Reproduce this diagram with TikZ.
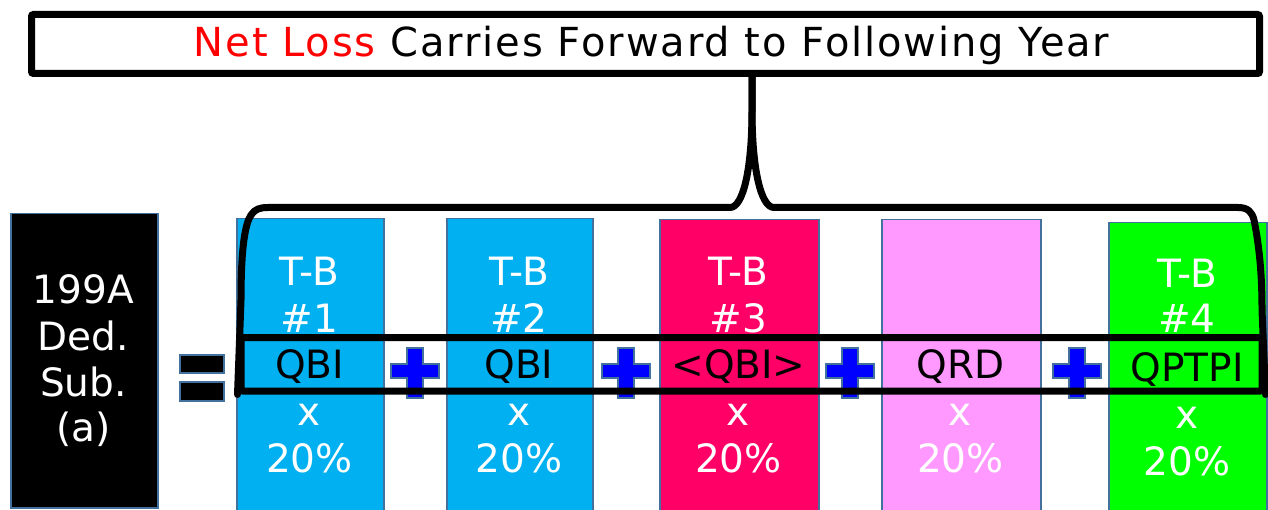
\documentclass[tikz,border=0pt]{standalone}
\usepackage{fontspec}
\setmainfont{DejaVu Sans}
\definecolor{edge}{HTML}{41719C}
\definecolor{cblue}{HTML}{00B0F0}
\definecolor{cred}{HTML}{FF0066}
\definecolor{cpink}{HTML}{FF99FF}
\definecolor{cgreen}{HTML}{00FF00}
\definecolor{plusblue}{HTML}{0000FF}
\definecolor{titlered}{HTML}{FF0000}
\begin{document}
\begin{tikzpicture}[x=1pt,y=-1pt,
  colbox/.style={draw=edge, line width=1.5pt, anchor=north west, inner sep=0pt, minimum height=320pt},
  lbl/.style={anchor=base, inner sep=0pt, font=\fontsize{39}{46}\selectfont, text=white},
  qlbl/.style={lbl, text=black},
  plusbar/.style={fill=plusblue, draw=edge, line width=2pt, line join=miter},
  eqbar/.style={fill=black, draw=edge, line width=2pt},
  heavy/.style={line width=7pt, draw=black},
  pluspath/.pic={\path[plusbar] (-8,-24) -- (8,-24) -- (8,-8) -- (24,-8) -- (24,6) -- (8,6) -- (8,26) -- (-8,26) -- (-8,6) -- (-24,6) -- (-24,-8) -- (-8,-8) -- cycle;}]
\useasboundingbox (0,0) rectangle (1268,510);
\clip (0,0) rectangle (1268,510);
\fill[white] (0,0) rectangle (1268,510);

% title box
\node[heavy, rounded corners=2pt, minimum width=1228pt, minimum height=59pt, inner sep=0pt] (title) at (645.5,44) {};
\node[anchor=base, inner sep=0pt, font=\fontsize{40}{46}\selectfont\addfontfeature{LetterSpace=4.8}] (titletext) at (651.5,57)
  {\textcolor{titlered}{Net Loss} Carries Forward to Following Year};

% left black box
\node[draw=edge, fill=black, line width=1.5pt, anchor=north west, inner sep=0pt, minimum width=147pt, minimum height=294pt] (sub) at (10,213) {};
\node[lbl] (sub1) at (83.5,304) {199A};
\node[lbl] (sub2) at (83.5,350) {Ded.};
\node[lbl] (sub3) at (83.5,396) {Sub.};
\node[lbl] (sub4) at (83.5,441) {(a)};

% equals
\draw[eqbar] (180,355) rectangle (224,373);
\draw[eqbar] (180,382) rectangle (224,401);

% columns
\node[colbox, fill=cblue, minimum width=147pt] (col1) at (236,218) {};
\node[colbox, fill=cblue, minimum width=146pt] (col2) at (446,218) {};
\node[colbox, fill=cred, minimum width=159pt] (col3) at (659,219) {};
\node[colbox, fill=cpink, minimum width=159pt] (col4) at (881,219) {};
\node[colbox, fill=cgreen, minimum width=158pt] (col5) at (1108,222) {};

% column texts
\node[lbl] (a1) at (309.5,286) {T-B};
\node[lbl] (a2) at (309.5,332) {\#1};
\node[qlbl] (a3) at (309.5,378) {QBI};
\node[lbl] (a4) at (309.5,425) {x};
\node[lbl] (a5) at (309.5,472) {20\%};

\node[lbl] (b1) at (519,286) {T-B};
\node[lbl] (b2) at (519,332) {\#2};
\node[qlbl] (b3) at (519,378) {QBI};
\node[lbl] (b4) at (519,425) {x};
\node[lbl] (b5) at (519,472) {20\%};

\node[lbl] (c1) at (738.5,286) {T-B};
\node[lbl] (c2) at (738.5,332) {\#3};
\node[qlbl] (c3) at (738.5,378) {<QBI>};
\node[lbl] (c4) at (738.5,425) {x};
\node[lbl] (c5) at (738.5,472) {20\%};

\node[qlbl] (d3) at (960.5,378) {QRD};
\node[lbl] (d4) at (960.5,425) {x};
\node[lbl] (d5) at (960.5,472) {20\%};

\node[lbl] (e1) at (1187,288) {T-B};
\node[lbl] (e2) at (1187,333) {\#4};
\node[qlbl] (e3) at (1187,381) {QPTPI};
\node[lbl] (e4) at (1187,428) {x};
\node[lbl] (e5) at (1187,475) {20\%};

% plus signs
\pic at (415,372) {pluspath};
\pic at (625.5,372) {pluspath};
\pic at (850,372) {pluspath};
\pic at (1076.5,372) {pluspath};

% band
\node[heavy, rounded corners=2pt, minimum width=1021pt, minimum height=53.5pt, inner sep=0pt] (band) at (751.5,364.25) {};

% brace
\coordinate (tip) at (752,73.5);
\draw[line width=7pt, line join=round, line cap=round]
  (band.south west) -- (241,300) .. controls (241,248) and (245,224) .. (251,215)
  .. controls (255,209) and (260,207.5) .. (268,207.5) -- (730,207.5)
  .. controls (743,207.5) and (752,170) .. (752,110) -- (tip);
\draw[line width=7pt, line join=round, line cap=round]
  (tip) -- (752,110) .. controls (752,170) and (761,207.5) .. (774,207.5)
  -- (1238,207.5) .. controls (1248,207.5) and (1252,212) .. (1254,220)
  .. controls (1259,245) and (1262,272) .. (1262,310) -- (band.south east);
\end{tikzpicture}
\end{document}
